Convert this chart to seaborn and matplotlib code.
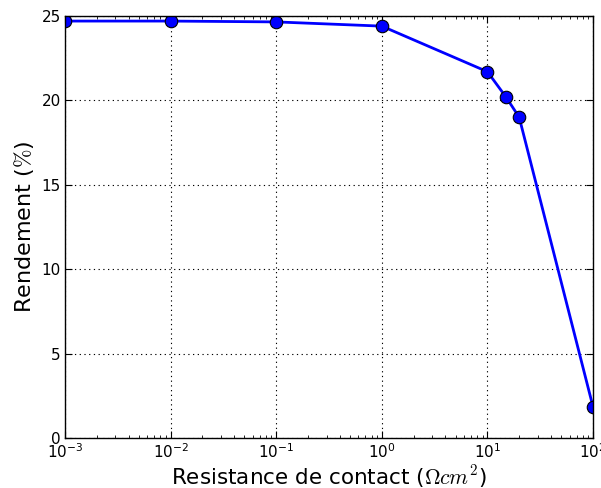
import matplotlib
matplotlib.use("Agg")
import matplotlib.pyplot as plt
import seaborn as sns
import pandas as pd
from matplotlib.ticker import LogLocator, NullFormatter

resistance = [1e-3, 1e-2, 1e-1, 1e0, 1e1, 15, 20, 100]
rendement = [24.7, 24.7, 24.65, 24.4, 21.7, 20.2, 19.0, 1.85]

df = pd.DataFrame({"R": resistance, "eta": rendement})

sns.set_style("ticks")
plt.rcParams['font.family'] = ['DejaVu Sans']
plt.rcParams['text.color'] = 'black'
plt.rcParams['axes.labelcolor'] = 'black'
plt.rcParams['xtick.color'] = 'black'
plt.rcParams['ytick.color'] = 'black'
plt.rcParams['lines.scale_dashes'] = False

fig = plt.figure(figsize=(6.01, 4.88), dpi=100)
ax = fig.add_axes([65/601, 1 - 438/488, (593-65)/601, (438-16)/488])

sns.lineplot(data=df, x="R", y="eta", ax=ax, color="blue", linewidth=2.0,
             marker="o", markersize=9, markerfacecolor="blue",
             markeredgecolor="black", markeredgewidth=0.8)

ax.set_xscale("log")
ax.set_xlim(1e-3, 1e2)
ax.set_ylim(0, 25)
ax.set_yticks([0, 5, 10, 15, 20, 25])
ax.xaxis.set_minor_locator(LogLocator(base=10, subs=range(2, 10), numticks=20))
ax.xaxis.set_minor_formatter(NullFormatter())

ax.grid(True, which="major", linestyle=(0, (0.9, 2.5)), color="black", linewidth=0.8)
ax.tick_params(which="both", direction="in", top=True, right=True, labelsize=11,
               color="black", labelcolor="black")
ax.tick_params(which="major", length=5, width=0.8, pad=3)
ax.tick_params(which="minor", length=2.5, width=0.6)
for s in ax.spines.values():
    s.set_linewidth(1.0)
    s.set_color("black")

ax.set_xlabel(r"Resistance de contact ($\Omega cm^2$)", fontsize=15.5, math_fontfamily="cm",
              labelpad=2, color="black")
ax.set_ylabel(r"Rendement ($\%$)", fontsize=16, math_fontfamily="cm", labelpad=4, color="black")

fig.savefig("out.png", dpi=100)
